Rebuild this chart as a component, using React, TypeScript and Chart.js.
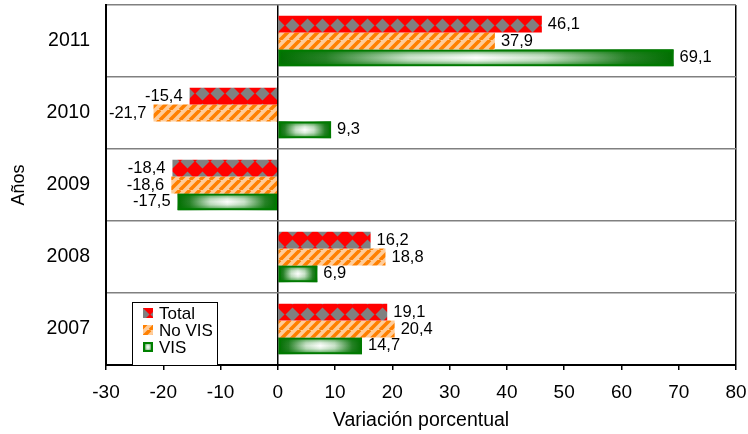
import { useEffect, useRef } from 'react';
import { Chart, registerables } from 'chart.js';

Chart.register(...registerables);

const years = ['2011', '2010', '2009', '2008', '2007'];
const seriesNames = ['Total', 'No VIS', 'VIS'];
const totalValues = [46.1, -15.4, -18.4, 16.2, 19.1];
const noVisValues = [37.9, -21.7, -18.6, 18.8, 20.4];
const visValues = [69.1, 9.3, -17.5, 6.9, 14.7];
const xMin = -30;
const xMax = 80;
const xStep = 10;
const xTitle = 'Variación porcentual';
const yTitle = 'Años';

const FONT = '"Liberation Sans", Arial, Helvetica, sans-serif';

function makeDiamondPattern(ctx: CanvasRenderingContext2D) {
  const w = 15;
  const h = 17;
  const c = document.createElement('canvas');
  c.width = w;
  c.height = h;
  const g = c.getContext('2d')!;
  g.fillStyle = '#FF0000';
  g.fillRect(0, 0, w, h);
  g.fillStyle = '#808080';
  g.beginPath();
  g.moveTo(w / 2, 1.5);
  g.lineTo(w - 0.5, h / 2);
  g.lineTo(w / 2, h - 1.5);
  g.lineTo(0.5, h / 2);
  g.closePath();
  g.fill();
  return ctx.createPattern(c, 'repeat')!;
}

function makeStripePattern(ctx: CanvasRenderingContext2D) {
  const s = 10;
  const c = document.createElement('canvas');
  c.width = s;
  c.height = s;
  const g = c.getContext('2d')!;
  g.fillStyle = '#FFCC99';
  g.fillRect(0, 0, s, s);
  g.strokeStyle = '#FF8000';
  g.lineWidth = 3.6;
  g.beginPath();
  for (const o of [-s, 0, s]) {
    g.moveTo(o, s);
    g.lineTo(o + s, 0);
  }
  g.stroke();
  return ctx.createPattern(c, 'repeat')!;
}

function drawCenterGradient(ctx: CanvasRenderingContext2D, x0: number, y0: number, x1: number, y1: number) {
  ctx.save();
  const gh = ctx.createLinearGradient(x0, 0, x1, 0);
  gh.addColorStop(0, 'rgb(0,110,0)');
  gh.addColorStop(0.12, 'rgb(40,130,40)');
  gh.addColorStop(0.33, 'rgb(205,228,205)');
  gh.addColorStop(0.5, 'rgb(255,255,255)');
  gh.addColorStop(0.67, 'rgb(205,228,205)');
  gh.addColorStop(0.88, 'rgb(40,130,40)');
  gh.addColorStop(1, 'rgb(0,110,0)');
  ctx.fillStyle = gh;
  ctx.fillRect(x0, y0, x1 - x0, y1 - y0);
  const gv = ctx.createLinearGradient(0, y0, 0, y1);
  gv.addColorStop(0, 'rgba(0,120,0,0.75)');
  gv.addColorStop(0.32, 'rgba(0,120,0,0.12)');
  gv.addColorStop(0.5, 'rgba(0,120,0,0)');
  gv.addColorStop(0.68, 'rgba(0,120,0,0.12)');
  gv.addColorStop(1, 'rgba(0,120,0,0.75)');
  ctx.fillStyle = gv;
  ctx.fillRect(x0, y0, x1 - x0, y1 - y0);
  ctx.restore();
}

const visFillPlugin = {
  id: 'visFill',
  beforeDatasetDraw(chart: any, args: any) {
    if (args.index !== 2) return;
    const ctx = chart.ctx as CanvasRenderingContext2D;
    args.meta.data.forEach((el: any) => {
      const { x, y, base, height } = el.getProps(['x', 'y', 'base', 'height'], true);
      const x0 = Math.min(x, base);
      const x1 = Math.max(x, base);
      drawCenterGradient(ctx, x0, y - height / 2, x1, y + height / 2);
    });
  },
};

const valueLabelPlugin = {
  id: 'valueLabels',
  afterDatasetsDraw(chart: any) {
    const ctx = chart.ctx as CanvasRenderingContext2D;
    ctx.save();
    ctx.font = `16.5px ${FONT}`;
    ctx.fillStyle = '#000';
    ctx.textBaseline = 'middle';
    chart.data.datasets.forEach((ds: any, i: number) => {
      const meta = chart.getDatasetMeta(i);
      meta.data.forEach((el: any, j: number) => {
        const v = ds.data[j] as number;
        const { x, y } = el.getProps(['x', 'y'], true);
        const txt = v.toFixed(1).replace('.', ',');
        if (v >= 0) {
          ctx.textAlign = 'left';
          ctx.fillText(txt, x + 6, y);
        } else {
          ctx.textAlign = 'right';
          ctx.fillText(txt, x - 7, y);
        }
      });
    });
    ctx.restore();
  },
};

const legendPlugin = {
  id: 'boxLegend',
  afterDraw(chart: any) {
    const ctx = chart.ctx as CanvasRenderingContext2D;
    const area = chart.chartArea;
    const left = area.left + 26;
    const top = area.bottom - 63;
    const w = 85;
    const h = 63;
    ctx.save();
    ctx.fillStyle = '#fff';
    ctx.fillRect(left, top, w, h);
    ctx.strokeStyle = '#000';
    ctx.lineWidth = 1;
    ctx.strokeRect(left + 0.5, top + 0.5, w, h);
    ctx.font = `17px ${FONT}`;
    ctx.textBaseline = 'middle';
    ctx.textAlign = 'left';
    chart.data.datasets.forEach((ds: any, i: number) => {
      const cy = top + 11 + i * 17;
      const sx = left + 11;
      const sy = cy - 5;
      if (i === 2) {
        drawCenterGradient(ctx, sx, sy, sx + 10, sy + 10);
        ctx.strokeStyle = '#008000';
        ctx.lineWidth = 2;
        ctx.strokeRect(sx + 1, sy + 1, 8, 8);
      } else {
        ctx.fillStyle = ds.backgroundColor;
        ctx.fillRect(sx, sy, 10, 10);
      }
      ctx.fillStyle = '#000';
      ctx.fillText(ds.label, left + 27, cy + 1);
    });
    ctx.restore();
  },
};

export default function App() {
  const ref = useRef<HTMLCanvasElement>(null);

  useEffect(() => {
    const canvas = ref.current!;
    const ctx = canvas.getContext('2d')!;
    Chart.defaults.font.family = FONT;
    Chart.defaults.color = '#000';
    const diamond = makeDiamondPattern(ctx);
    const stripes = makeStripePattern(ctx);

    const chart = new Chart(canvas, {
      type: 'bar',
      data: {
        labels: years,
        datasets: [
          { label: seriesNames[0], data: totalValues, backgroundColor: diamond as any, borderWidth: 0 },
          { label: seriesNames[1], data: noVisValues, backgroundColor: stripes as any, borderWidth: 0 },
          {
            label: seriesNames[2],
            data: visValues,
            backgroundColor: 'rgba(0,0,0,0)',
            borderColor: '#007A00',
            borderWidth: 2,
            borderSkipped: false,
          },
        ],
      },
      options: {
        indexAxis: 'y',
        responsive: false,
        animation: false,
        devicePixelRatio: 1,
        categoryPercentage: 0.7,
        barPercentage: 1,
        layout: { padding: { top: 5, right: 12, bottom: 0, left: 0 } },
        plugins: {
          legend: { display: false },
          tooltip: { enabled: false },
        },
        scales: {
          x: {
            type: 'linear',
            min: xMin,
            max: xMax,
            ticks: { stepSize: xStep, padding: 11, font: { size: 19 }, color: '#000' },
            grid: {
              color: (c: any) => (c.tick && (c.tick.value === 0 || c.tick.value === xMax) ? '#000' : 'rgba(0,0,0,0)'),
              lineWidth: 1.5,
              tickColor: '#000',
              tickLength: 5,
              tickWidth: 1.5,
              drawTicks: true,
            },
            border: { display: true, color: '#000', width: 2 },
            title: { display: true, text: xTitle, font: { size: 19.5 }, color: '#000', padding: { top: 0, bottom: 2 } },
            afterFit: (s: any) => {
              s.height = 69;
              s.paddingLeft = 0;
              s.paddingRight = 0;
            },
          },
          y: {
            type: 'category',
            ticks: { padding: 16, font: { size: 19.5 }, color: '#000' },
            grid: { color: '#808080', lineWidth: 1.5, drawTicks: false, offset: true },
            border: { display: true, color: '#000', width: 2 },
            title: { display: true, text: yTitle, font: { size: 18 }, color: '#000', padding: { top: 8, bottom: 0 } },
            afterFit: (s: any) => {
              s.width = 106;
              s.paddingTop = 0;
              s.paddingBottom = 0;
            },
          },
        },
      } as any,
      plugins: [visFillPlugin, valueLabelPlugin, legendPlugin],
    });
    return () => chart.destroy();
  }, []);

  return (
    <div style={{ position: 'absolute', left: 0, top: 0, width: 748, height: 434 }}>
      <canvas ref={ref} width={748} height={434} style={{ display: 'block' }} />
    </div>
  );
}
